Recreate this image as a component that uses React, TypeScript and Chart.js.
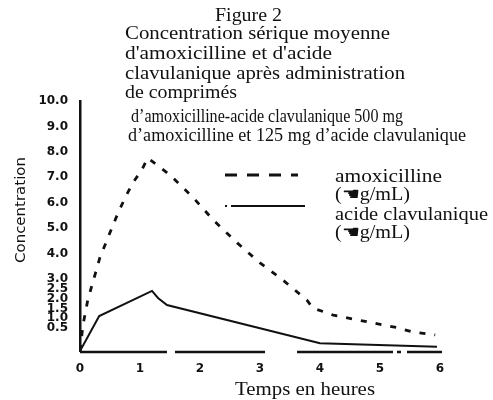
import React, { useEffect, useRef } from 'react';
import { Chart, LinearScale, registerables } from 'chart.js';

// ---- data ----
const amoxHours = [0, 0.05, 0.13, 0.22, 0.33, 0.47, 0.62, 0.75, 0.88, 1.03, 1.13, 1.5, 1.88, 2.22, 2.62, 3.0, 3.38, 3.78, 3.88, 4.22, 4.55, 4.88, 5.28, 5.55, 5.92];
const amoxConc = [0, 0.65, 1.93, 2.9, 3.83, 4.65, 5.52, 6.19, 6.78, 7.29, 7.76, 7.09, 6.22, 5.32, 4.42, 3.63, 2.95, 1.93, 1.52, 1.16, 0.96, 0.76, 0.52, 0.41, 0.35];
const clavHours = [0, 0.32, 1.2, 1.3, 1.45, 4.0, 5.95];
const clavConc = [0, 1.11, 2.39, 2.03, 1.67, 0.17, 0.09];
const yTickValues = [0.5, 1, 1.5, 2, 2.5, 3, 4, 5, 6, 7, 8, 9, 10];
const xTickValues = [0, 1, 2, 3, 4, 5, 6];
const titleLines = [
  'Figure 2',
  'Concentration sérique moyenne',
  "d'amoxicilline et d'acide",
  'clavulanique après administration',
  'de comprimés',
  'd’amoxicilline-acide clavulanique 500 mg',
  'd’amoxicilline et 125 mg d’acide clavulanique',
];
const seriesNames = ['amoxicilline', 'acide clavulanique'];
const unitLabel = '(☚g/mL)';
const xTitle = 'Temps en heures';
const yTitle = 'Concentration';

// ---- non-linear value axis as printed (compressed 0.5–3.0 band) ----
const Y_BREAKS: [number, number][] = [[0, 0], [0.5, 0.092], [3, 0.288], [10, 1]];

class PiecewiseScale extends LinearScale {
  static id = 'piecewise';
  static defaults = LinearScale.defaults;
  valueToDecimal(v: number) {
    const b = Y_BREAKS;
    for (let i = 1; i < b.length; i++) {
      if (v <= b[i][0] || i === b.length - 1) {
        const [v0, f0] = b[i - 1];
        const [v1, f1] = b[i];
        return f0 + ((v - v0) / (v1 - v0)) * (f1 - f0);
      }
    }
    return 0;
  }
  decimalToValue(d: number) {
    const b = Y_BREAKS;
    for (let i = 1; i < b.length; i++) {
      if (d <= b[i][1] || i === b.length - 1) {
        const [v0, f0] = b[i - 1];
        const [v1, f1] = b[i];
        return v0 + ((d - f0) / (f1 - f0)) * (v1 - v0);
      }
    }
    return 0;
  }
  getPixelForValue(value: any) {
    if (value === null || value === undefined || isNaN(value)) return NaN;
    return (this as any).getPixelForDecimal(this.valueToDecimal(value));
  }
  getValueForPixel(pixel: number) {
    return this.decimalToValue((this as any).getDecimalForPixel(pixel));
  }
}

Chart.register(...registerables, PiecewiseScale as any);

const INK = '#111';
const SERIF = '"Liberation Serif", "Times New Roman", serif';

function fitText(ctx: CanvasRenderingContext2D, text: string, x: number, y: number, size: number, width: number, font = SERIF) {
  ctx.font = `${size}px ${font}`;
  const w = ctx.measureText(text).width;
  const sx = width && w ? width / w : 1;
  ctx.save();
  ctx.translate(x, y);
  ctx.scale(sx, 1);
  ctx.fillText(text, 0, 0);
  ctx.restore();
}

// broken x axis line, as printed
const brokenXAxisPlugin = {
  id: 'brokenXAxis',
  beforeDatasetsDraw(chart: any) {
    const { ctx, chartArea } = chart;
    ctx.save();
    ctx.strokeStyle = INK;
    ctx.lineWidth = 2.5;
    ctx.setLineDash([87, 8, 90, 32, 96, 4, 4, 6, 40]);
    ctx.beginPath();
    ctx.moveTo(chartArea.left, chartArea.bottom + 1);
    ctx.lineTo(chartArea.right + 2, chartArea.bottom + 1);
    ctx.stroke();
    ctx.restore();
  },
};

const figureTextPlugin = {
  id: 'figureText',
  afterDraw(chart: any) {
    const ctx: CanvasRenderingContext2D = chart.ctx;
    ctx.save();
    ctx.fillStyle = INK;
    ctx.strokeStyle = INK;
    ctx.textAlign = 'left';
    ctx.textBaseline = 'alphabetic';
    const layout = [
      [215, 21, 19, 67],
      [125, 39, 19, 265],
      [125, 59, 19, 207],
      [125, 79, 19, 280],
      [125, 98, 19, 112],
      [131, 122, 18, 272],
      [128, 141, 18, 338],
    ];
    titleLines.forEach((t, i) => {
      const [x, y, s, w] = layout[i];
      fitText(ctx, t, x, y, s, w);
    });

    // legend
    const ds = chart.data.datasets;
    ctx.lineWidth = 3;
    ctx.setLineDash([12, 10]);
    ctx.beginPath();
    ctx.moveTo(225, 175);
    ctx.lineTo(298, 175);
    ctx.stroke();
    ctx.setLineDash([]);
    ctx.lineWidth = ds[1].borderWidth;
    ctx.beginPath();
    ctx.moveTo(231, 206);
    ctx.lineTo(305, 206);
    ctx.stroke();
    ctx.fillRect(225, 205, 2, 2);
    fitText(ctx, seriesNames[0], 335, 182, 18, 107);
    fitText(ctx, unitLabel, 335, 200, 18, 75);
    fitText(ctx, seriesNames[1], 335, 220, 18, 153);
    fitText(ctx, unitLabel, 335, 238, 18, 75);

    // axis titles
    fitText(ctx, xTitle, 235, 395, 18, 140);
    ctx.save();
    ctx.translate(25, 263);
    ctx.rotate(-Math.PI / 2);
    fitText(ctx, yTitle, 0, 0, 14, 106, '"DejaVu Sans", sans-serif');
    ctx.restore();
    ctx.restore();
  },
};

export default function App() {
  const ref = useRef<HTMLCanvasElement | null>(null);
  useEffect(() => {
    if (!ref.current) return;
    const chart = new Chart(ref.current, {
      type: 'line',
      data: {
        datasets: [
          {
            label: seriesNames[0],
            data: amoxHours.map((h, i) => ({ x: h, y: amoxConc[i] })),
            borderColor: INK,
            borderWidth: 2.8,
            borderDash: [6, 9],
            pointRadius: 0,
            tension: 0,
            fill: false,
          },
          {
            label: seriesNames[1],
            data: clavHours.map((h, i) => ({ x: h, y: clavConc[i] })),
            borderColor: INK,
            borderWidth: 2,
            pointRadius: 0,
            tension: 0,
            fill: false,
          },
        ],
      },
      options: {
        animation: false,
        responsive: false,
        events: [],
        layout: { padding: { top: 101, right: 53, left: 0, bottom: 0 } },
        plugins: { legend: { display: false }, title: { display: false }, tooltip: { enabled: false } },
        scales: {
          x: {
            type: 'linear',
            min: 0,
            max: 6,
            afterFit: (s: any) => { s.height = 49; },
            afterBuildTicks: (s: any) => { s.ticks = xTickValues.map((v) => ({ value: v })); },
            grid: { display: false },
            border: { display: false },
            ticks: { color: INK, font: { family: '"DejaVu Sans", sans-serif', size: 12, weight: 'bold' }, maxRotation: 0, autoSkip: false },
          },
          y: {
            type: 'piecewise' as any,
            min: 0,
            max: 10,
            afterFit: (s: any) => { s.width = 80; },
            afterBuildTicks: (s: any) => { s.ticks = yTickValues.map((v) => ({ value: v })); },
            grid: { display: false },
            border: { display: true, color: INK, width: 2.5 },
            ticks: {
              color: INK,
              autoSkip: false,
              padding: 4,
              font: { family: '"DejaVu Sans", sans-serif', size: 12, weight: 'bold' },
              callback: (v: any) => Number(v).toFixed(1),
            },
          },
        },
      } as any,
      plugins: [brokenXAxisPlugin, figureTextPlugin],
    });
    return () => chart.destroy();
  }, []);
  return (
    <div style={{ position: 'absolute', left: 0, top: 0, width: 493, height: 400, background: '#fff' }}>
      <canvas ref={ref} width={493} height={400} style={{ display: 'block', width: 493, height: 400 }} />
    </div>
  );
}
